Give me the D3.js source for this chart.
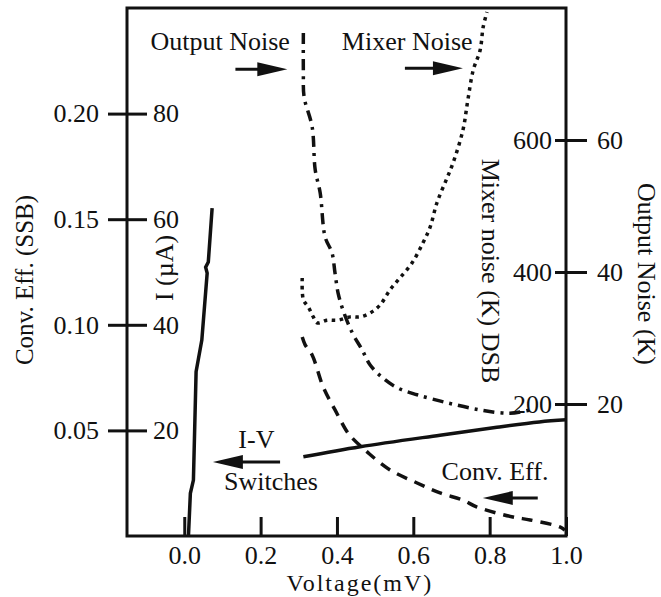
<!DOCTYPE html>
<html>
<head>
<meta charset="utf-8">
<script src="https://cdn.jsdelivr.net/npm/d3@7"></script>
<style>
  body { margin: 0; background: #fff; }
  svg { display: block; }
  text { font-family: "Liberation Serif", "Times New Roman", serif; fill: #111; }
</style>
</head>
<body>
<svg width="661" height="597"></svg>
<script>
// values
const xTicks = [0, 0.2, 0.4, 0.6, 0.8, 1.0];
const effTicks = [0.05, 0.10, 0.15, 0.20];
const currentTicks = [20, 40, 60, 80];
const mixTicks = [200, 400, 600];
const outTicks = [20, 40, 60];

// I-V, superconducting branch then the switched branch
const ivV = [0.011, 0.016, 0.024, 0.031, 0.046, 0.060, 0.056, 0.063, 0.073];
const ivI = [0, 8.1, 10.6, 31.1, 37.1, 49.8, 50.9, 51.9, 62.1];
const ivV2 = [0.312, 0.461, 0.670, 0.819, 0.930, 1.0];
const ivI2 = [15.0, 16.9, 19.1, 20.6, 21.6, 22.0];

// conversion efficiency (SSB)
const convV = [0.309, 0.317, 0.335, 0.364, 0.395, 0.427, 0.440, 0.479, 0.539, 0.610, 0.670, 0.730, 0.767, 0.861, 0.906, 0.984, 0.997];
const convE = [0.0942, 0.0904, 0.0857, 0.0705, 0.0597, 0.0492, 0.0464, 0.0398, 0.0313, 0.0251, 0.0204, 0.0170, 0.0137, 0.0090, 0.0076, 0.0043, 0.0028];

// output noise (K)
const outV = [0.312, 0.312, 0.314, 0.335, 0.343, 0.356, 0.369, 0.387, 0.395, 0.403, 0.416, 0.440, 0.466, 0.487, 0.521, 0.560, 0.610, 0.688, 0.775, 0.853, 0.906];
const outK = [76.2, 70.3, 66.5, 62.0, 55.5, 52.0, 45.3, 42.9, 39.8, 36.8, 34.2, 30.8, 28.2, 25.9, 23.9, 22.4, 21.4, 20.2, 19.1, 18.6, 19.1];

// mixer noise DSB (K)
const mixV = [0.309, 0.312, 0.325, 0.338, 0.348, 0.374, 0.403, 0.435, 0.461, 0.487, 0.513, 0.539, 0.565, 0.597, 0.626, 0.644, 0.662, 0.688, 0.704, 0.730, 0.743, 0.757, 0.775, 0.783, 0.793];
const mixK = [391, 358, 347, 332, 323, 327, 327, 332, 332, 338, 350, 373, 391, 414, 445, 468, 505, 542, 565, 615, 661, 706, 736, 771, 794];

// annotations, placed in (voltage, current) units
const notes = [
  { text: "Output Noise", v: 0.094, i: 92.0 },
  { text: "Mixer Noise", v: 0.584, i: 92.0 },
  { text: "I-V", v: 0.189, i: 16.7 },
  { text: "Switches", v: 0.227, i: 8.7 },
  { text: "Conv. Eff.", v: 0.814, i: 10.6 }
];
const arrows = [
  { v0: 0.134, v1: 0.270, i: 88.4 },
  { v0: 0.578, v1: 0.730, i: 88.6 },
  { v0: 0.251, v1: 0.075, i: 14.0 },
  { v0: 0.926, v1: 0.782, i: 7.2 }
];

const svg = d3.select("svg");
const margin = { top: 8, right: 95, bottom: 61, left: 127 };
const width = +svg.attr("width") - margin.left - margin.right;
const height = +svg.attr("height") - margin.top - margin.bottom;
const g = svg.append("g").attr("transform", `translate(${margin.left},${margin.top})`);

const x = d3.scaleLinear().domain([-0.15, 1.0]).range([0, width]);
const yEff = d3.scaleLinear().domain([0, 0.25]).range([height, 0]);
const yI = d3.scaleLinear().domain([0, 100]).range([height, 0]);
const yMix = d3.scaleLinear().domain([0, 800]).range([height, 0]);
const yOut = d3.scaleLinear().domain([0, 80]).range([height, 0]);

const fs = 26;

function styleAxis(sel) {
  sel.select(".domain").remove();
  sel.selectAll("line").attr("stroke", "#111").attr("stroke-width", 3);
  sel.selectAll("text").attr("font-size", fs).attr("font-family", "Liberation Serif").attr("fill", "#111");
}

// axes
g.append("g").call(d3.axisLeft(yEff).tickValues(effTicks).tickSize(19).tickPadding(9).tickFormat(d3.format(".2f"))).call(styleAxis);
g.append("g").call(d3.axisRight(yI).tickValues(currentTicks).tickSize(20).tickPadding(6)).call(styleAxis);
g.append("g").attr("transform", `translate(${width},0)`)
  .call(d3.axisLeft(yMix).tickValues(mixTicks).tickSize(11).tickPadding(3)).call(styleAxis);
g.append("g").attr("transform", `translate(${width},0)`)
  .call(d3.axisRight(yOut).tickValues(outTicks).tickSize(21).tickPadding(10)).call(styleAxis);
g.append("g").attr("transform", `translate(0,${height})`)
  .call(d3.axisBottom(x).tickValues(xTicks).tickSize(-19).tickPadding(10).tickFormat(d3.format(".1f"))).call(styleAxis);

// frame
g.append("rect").attr("width", width).attr("height", height)
  .attr("fill", "none").attr("stroke", "#111").attr("stroke-width", 3);

// axis titles
svg.append("text").attr("transform", "translate(33,280) rotate(-90)")
  .attr("text-anchor", "middle").attr("font-size", 25).text("Conv. Eff. (SSB)");
svg.append("text").attr("transform", "translate(173,268) rotate(-90)")
  .attr("text-anchor", "middle").attr("font-size", fs).text("I (\u00b5A)");
svg.append("text").attr("transform", "translate(482,271) rotate(90)")
  .attr("text-anchor", "middle").attr("font-size", fs).text("Mixer noise (K) DSB");
svg.append("text").attr("transform", "translate(638,274) rotate(90)")
  .attr("text-anchor", "middle").attr("font-size", fs).text("Output Noise (K)");
svg.append("text").attr("x", margin.left + x(0.46)).attr("y", 591)
  .attr("text-anchor", "middle").attr("font-size", 24).attr("letter-spacing", 2).text("Voltage(mV)");

// curves
const plot = g.append("g");
function drawLine(vs, ys, yScale, dash, curve) {
  const pts = vs.map((v, k) => [x(v), yScale(ys[k])]);
  plot.append("path")
    .attr("d", d3.line().curve(curve || d3.curveLinear)(pts))
    .attr("fill", "none").attr("stroke", "#111").attr("stroke-width", 3.5)
    .attr("stroke-dasharray", dash);
}
drawLine(ivV, ivI, yI, null);
drawLine(ivV2, ivI2, yI, null, d3.curveCatmullRom);
drawLine(convV, convE, yEff, "11,8", d3.curveCatmullRom);
drawLine(outV, outK, yOut, "11,6,3,6", d3.curveCatmullRom);
drawLine(mixV, mixK, yMix, "3.5,4.5", d3.curveCatmullRom);

// annotations
g.selectAll(".note").data(notes).enter().append("text")
  .attr("class", "note")
  .attr("x", d => x(d.v)).attr("y", d => yI(d.i))
  .attr("text-anchor", "middle").attr("font-size", fs)
  .text(d => d.text);

arrows.forEach(a => {
  const x0 = x(a.v0), x1 = x(a.v1), y = yI(a.i);
  const dir = Math.sign(x1 - x0);
  g.append("line").attr("x1", x0).attr("x2", x1 - dir * 20).attr("y1", y).attr("y2", y)
    .attr("stroke", "#111").attr("stroke-width", 3);
  g.append("path")
    .attr("d", `M${x1},${y}L${x1 - dir * 30},${y - 7}L${x1 - dir * 30},${y + 7}Z`)
    .attr("fill", "#111");
});
</script>
</body>
</html>
